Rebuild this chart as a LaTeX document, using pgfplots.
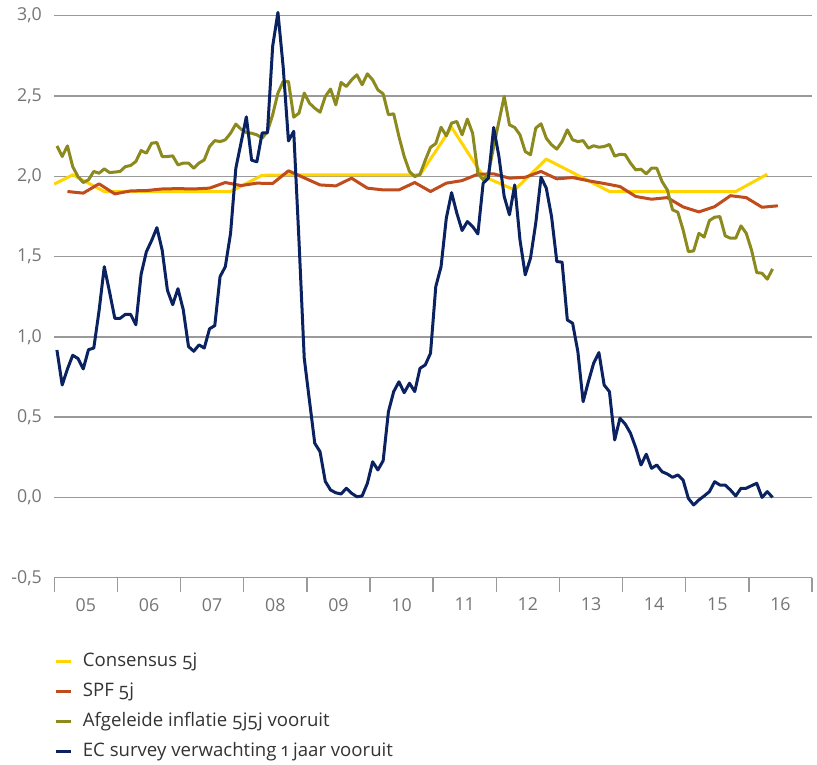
\documentclass[border=0pt]{standalone}
\usepackage{pgfplots}
\pgfplotsset{compat=1.18}
\usepackage{fontspec}
\setmainfont{Open Sans}
\newfontfamily\legfont[Numbers=OldStyle]{Open Sans}
\definecolor{cons}{HTML}{FFD400}
\definecolor{spf}{HTML}{C04B1C}
\definecolor{afg}{HTML}{8C8A1E}
\definecolor{ecs}{HTML}{0B2260}
\definecolor{gridc}{HTML}{9A9A9A}
\definecolor{tickc}{HTML}{757575}
\definecolor{legc}{HTML}{333333}

% x = maand sinds jan 2005 (0 = jan 05)
\pgfplotstableread{
k v
-0.5 1.951
3 2.009
9 1.905
15 1.905
21 1.905
27 1.905
33 1.905
39 2.006
45 2.009
51 2.009
57 2.009
63 2.009
69 2.009
75 2.305
81 2.000
87 1.915
93 2.107
99 2.006
105 1.905
111 1.905
117 1.905
123 1.905
129 1.905
135 2.013
}\consensus

\pgfplotstableread{
k v
2 1.905
5 1.895
8 1.953
11 1.890
14 1.909
17 1.911
20 1.921
23 1.923
26 1.921
29 1.926
32 1.961
35 1.942
38 1.957
41 1.955
44 2.034
47 1.990
50 1.946
53 1.940
56 1.988
59 1.926
62 1.915
65 1.915
68 1.961
71 1.905
74 1.957
77 1.973
80 2.013
83 2.015
86 1.988
89 1.994
92 2.030
95 1.984
98 1.992
101 1.972
104 1.955
107 1.936
110 1.874
113 1.857
116 1.867
119 1.809
122 1.778
125 1.811
128 1.879
131 1.867
134 1.807
137 1.816
}\spf

\pgfplotstableread{
k v
0 2.189
1 2.123
2 2.189
3 2.060
4 1.998
5 1.961
6 1.978
7 2.030
8 2.019
9 2.046
10 2.023
11 2.026
12 2.030
13 2.060
14 2.067
15 2.092
16 2.160
17 2.144
18 2.206
19 2.210
20 2.123
21 2.123
22 2.127
23 2.071
24 2.082
25 2.082
26 2.050
27 2.082
28 2.102
29 2.185
30 2.222
31 2.216
32 2.227
33 2.268
34 2.325
35 2.293
36 2.272
37 2.268
38 2.258
39 2.237
40 2.279
41 2.383
42 2.518
43 2.590
44 2.590
45 2.368
46 2.393
47 2.518
48 2.455
49 2.424
50 2.399
51 2.497
52 2.543
53 2.445
54 2.584
55 2.559
56 2.600
57 2.632
58 2.570
59 2.638
60 2.600
61 2.538
62 2.513
63 2.383
64 2.389
65 2.247
66 2.123
67 2.030
68 1.998
69 2.012
70 2.100
71 2.180
72 2.204
73 2.305
74 2.252
75 2.331
76 2.341
77 2.258
78 2.356
79 2.268
80 2.019
81 1.978
82 2.019
83 2.185
84 2.341
85 2.497
86 2.320
87 2.304
88 2.258
89 2.154
90 2.134
91 2.300
92 2.327
93 2.237
94 2.196
95 2.169
96 2.216
97 2.289
98 2.227
99 2.216
100 2.222
101 2.175
102 2.190
103 2.181
104 2.185
105 2.198
106 2.125
107 2.137
108 2.134
109 2.082
110 2.040
111 2.044
112 2.015
113 2.050
114 2.050
115 1.967
116 1.915
117 1.791
118 1.776
119 1.666
120 1.531
121 1.535
122 1.645
123 1.621
124 1.724
125 1.745
126 1.749
127 1.629
128 1.614
129 1.614
130 1.691
131 1.645
132 1.541
133 1.400
134 1.396
135 1.359
136 1.423
}\afgeleid

\pgfplotstableread{
k v
0 0.918
1 0.700
2 0.800
3 0.885
4 0.865
5 0.800
6 0.920
7 0.930
8 1.160
9 1.437
10 1.280
11 1.115
12 1.115
13 1.140
14 1.140
15 1.075
16 1.390
17 1.530
18 1.600
19 1.680
20 1.540
21 1.290
22 1.200
23 1.300
24 1.170
25 0.940
26 0.910
27 0.950
28 0.930
29 1.050
30 1.070
31 1.375
32 1.437
33 1.645
34 2.050
35 2.210
36 2.370
37 2.100
38 2.090
39 2.270
40 2.270
41 2.810
42 3.020
43 2.680
44 2.220
45 2.280
46 1.600
47 0.867
48 0.600
49 0.337
50 0.285
51 0.100
52 0.046
53 0.029
54 0.021
55 0.057
56 0.026
57 0.004
58 0.009
59 0.088
60 0.222
61 0.171
62 0.229
63 0.534
64 0.659
65 0.720
66 0.652
67 0.711
68 0.659
69 0.804
70 0.825
71 0.898
72 1.313
73 1.437
74 1.739
75 1.898
76 1.770
77 1.662
78 1.718
79 1.687
80 1.641
81 1.957
82 1.988
83 2.304
84 2.123
85 1.874
86 1.760
87 1.946
88 1.604
89 1.386
90 1.490
91 1.708
92 1.994
93 1.926
94 1.749
95 1.469
96 1.465
97 1.105
98 1.085
99 0.908
100 0.596
101 0.721
102 0.836
103 0.902
104 0.700
105 0.659
106 0.358
107 0.493
108 0.457
109 0.400
110 0.310
111 0.202
112 0.269
113 0.181
114 0.202
115 0.160
116 0.146
117 0.125
118 0.140
119 0.108
120 -0.006
121 -0.047
122 -0.016
123 0.009
124 0.036
125 0.098
126 0.077
127 0.077
128 0.046
129 0.009
130 0.057
131 0.057
132 0.073
133 0.088
134 0.000
135 0.036
136 0.000
}\ecsurvey

\begin{document}
\begin{tikzpicture}
\useasboundingbox (0,0) rectangle (408.5pt,382pt);
\begin{axis}[
  at={(27.15pt,93.15pt)}, anchor=south west,
  scale only axis, width=378.85pt, height=281pt,
  xmin=-0.5, xmax=143.5, ymin=-0.5, ymax=3,
  clip=false,
  axis x line*=bottom, axis y line*=left,
  y axis line style={draw=none},
  x axis line style={gridc, line width=0.75pt},
  xtick={5.5,17.5,...,137.5},
  xticklabels={05,06,07,08,09,10,11,12,13,14,15,16},
  minor xtick={-0.5,11.5,...,143.5},
  ytick={-0.5,0,0.5,1,1.5,2,2.5,3},
  yticklabels={{-0,5},{0,0},{0,5},{1,0},{1,5},{2,0},{2,5},{3,0}},
  major tick length=0pt, minor tick length=7pt, tick align=outside,
  minor tick style={gridc, line width=0.75pt},
  ymajorgrids, major grid style={gridc, line width=0.75pt},
  tick label style={font=\fontsize{8.9}{10}\selectfont, text=tickc},
  yticklabel style={inner sep=0pt, xshift=-6pt},
  xticklabel style={inner sep=0pt, anchor=north, yshift=-10pt},
  legend cell align=left,
  legend image code/.code={\draw[#1, line width=1.4pt] (0pt,0pt) -- (7.5pt,0pt);},
  legend style={draw=none, fill=none, inner sep=0pt, at={(0,-0.132)}, anchor=north west,
    font=\legfont\fontsize{9.3}{11}\selectfont, text=legc,
    column sep=5.2pt, row sep=5.5pt, nodes={inner sep=0pt, text height=7.3pt, text depth=2.2pt}},
  every axis plot/.append style={line width=1.5pt, line join=round},
]
\addplot[cons] table[x=k, y=v] {\consensus};
\addlegendentry{Consensus 5j}
\addplot[spf] table[x=k, y=v] {\spf};
\addlegendentry{SPF 5j}
\addplot[afg] table[x=k, y=v] {\afgeleid};
\addlegendentry{Afgeleide inflatie 5j5j vooruit}
\addplot[ecs] table[x=k, y=v] {\ecsurvey};
\addlegendentry{EC survey verwachting 1 jaar vooruit}
\end{axis}
\end{tikzpicture}
\end{document}
